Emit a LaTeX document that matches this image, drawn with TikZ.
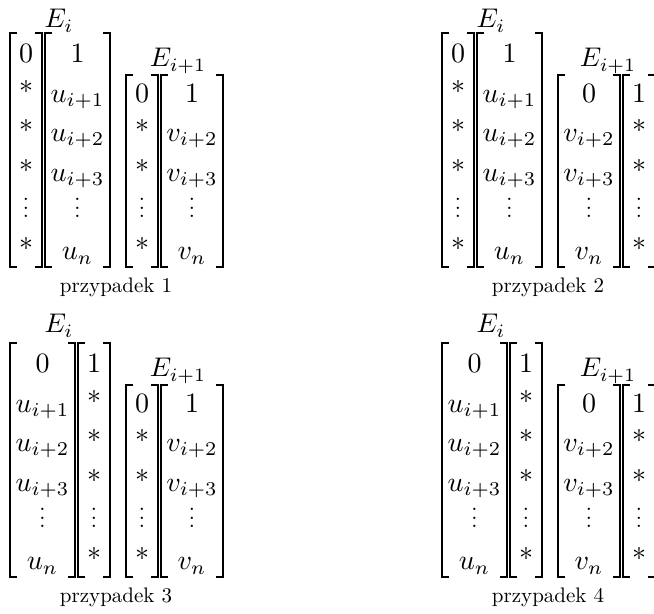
\documentclass[tikz,border=0pt]{standalone}
\tikzset{
  x=0.5pt, y=-0.5pt,
  brk/.style={line width=0.72pt},
  ent/.style={anchor=base, inner sep=0pt, scale=1.4},
  lab/.style={anchor=base, inner sep=0pt, scale=1.35},
  captext/.style={anchor=base, inner sep=0pt, scale=1.05},
}
\newcommand\st{\raisebox{0.4pt}{*}}
\newcommand\vd{\raisebox{0.93pt}{\scalebox{0.786}{\smash{$\vdots$}}}}
\newcommand\Vbrk[4]{%
  \draw[brk] (#1+7,#3) -- (#1,#3) -- (#1,#4) -- (#1+7,#4);
  \draw[brk] (#2-7,#3) -- (#2,#3) -- (#2,#4) -- (#2-7,#4);}
% #1 name prefix, #2 xl, #3 xr, #4 top, #5 first row, #6 entries
\newcommand\Col[6]{%
  \Vbrk{#2}{#3}{#4}{267}
  \foreach \e [count=\i from #5] in {#6} {
    \pgfmathsetmacro\yy{63+(\i-1)*39.4}
    \node[ent] (#1-\i) at ({(#2+#3)/2},\yy) {\e};
  }}
\begin{document}
\begin{tikzpicture}
\useasboundingbox (0,0) rectangle (654,614);
\clip (0,0) rectangle (654,614);
% przypadek 1
\begin{scope}[shift={(0,0)}]
  \node[lab] (p1-Ei) at (59,28) {$E_i$};
  \node[lab] (p1-Ej) at (178,67) {$E_{i+1}$};
  \Col{p1-A}{10}{42}{33}{1}{0,\st,\st,\st,\vd,\st}
  \Col{p1-B}{45}{110}{33}{1}{1,$u_{i+1}$,$u_{i+2}$,$u_{i+3}$,\vd,$u_n$}
  \Col{p1-C}{126}{158}{75}{2}{0,\st,\st,\vd,\st}
  \Col{p1-D}{161}{223}{75}{2}{1,$v_{i+2}$,$v_{i+3}$,\vd,$v_n$}
  \node[captext] (p1-cap) at (116,293) {przypadek 1};
\end{scope}
% przypadek 2
\begin{scope}[shift={(432,0)}]
  \node[lab] (p2-Ei) at (59,28) {$E_i$};
  \node[lab] (p2-Ej) at (176,67) {$E_{i+1}$};
  \Col{p2-A}{10}{42}{33}{1}{0,\st,\st,\st,\vd,\st}
  \Col{p2-B}{45}{110}{33}{1}{1,$u_{i+1}$,$u_{i+2}$,$u_{i+3}$,\vd,$u_n$}
  \Col{p2-C}{126}{188}{75}{2}{0,$v_{i+2}$,$v_{i+3}$,\vd,$v_n$}
  \Col{p2-D}{191}{223}{75}{2}{1,\st,\st,\vd,\st}
  \node[captext] (p2-cap) at (116,293) {przypadek 2};
\end{scope}
% przypadek 3
\begin{scope}[shift={(0,310)}]
  \node[lab] (p3-Ei) at (59,23) {$E_i$};
  \node[lab] (p3-Ej) at (178,67) {$E_{i+1}$};
  \Col{p3-A}{10}{75}{33}{1}{0,$u_{i+1}$,$u_{i+2}$,$u_{i+3}$,\vd,$u_n$}
  \Col{p3-B}{78}{110}{33}{1}{1,\st,\st,\st,\vd,\st}
  \Col{p3-C}{126}{158}{75}{2}{0,\st,\st,\vd,\st}
  \Col{p3-D}{161}{223}{75}{2}{1,$v_{i+2}$,$v_{i+3}$,\vd,$v_n$}
  \node[captext] (p3-cap) at (116,293) {przypadek 3};
\end{scope}
% przypadek 4
\begin{scope}[shift={(432,310)}]
  \node[lab] (p4-Ei) at (59,23) {$E_i$};
  \node[lab] (p4-Ej) at (176,67) {$E_{i+1}$};
  \Col{p4-A}{10}{75}{33}{1}{0,$u_{i+1}$,$u_{i+2}$,$u_{i+3}$,\vd,$u_n$}
  \Col{p4-B}{78}{110}{33}{1}{1,\st,\st,\st,\vd,\st}
  \Col{p4-C}{126}{188}{75}{2}{0,$v_{i+2}$,$v_{i+3}$,\vd,$v_n$}
  \Col{p4-D}{191}{223}{75}{2}{1,\st,\st,\vd,\st}
  \node[captext] (p4-cap) at (116,293) {przypadek 4};
\end{scope}
\end{tikzpicture}
\end{document}
